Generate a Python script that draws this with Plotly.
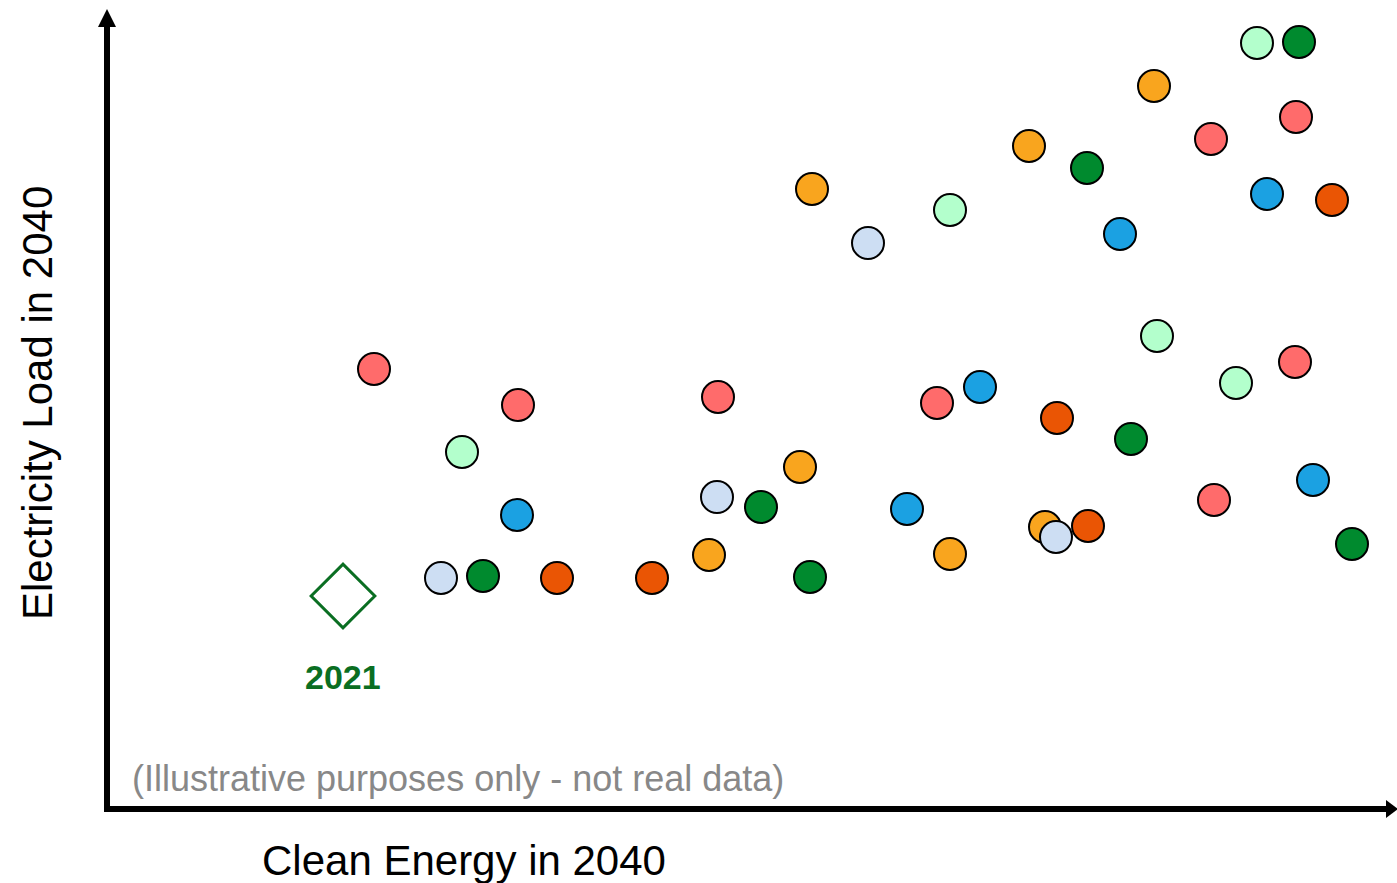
import plotly.graph_objects as go

# Clean Energy (x) / Electricity Load (y) in arbitrary illustrative units
pink_x = [374, 518, 718, 937, 1211, 1296, 1295, 1214]
pink_y = [514, 478, 486, 480, 744, 766, 521, 383]

lgreen_x = [462, 950, 1157, 1236, 1257]
lgreen_y = [431, 673, 547, 500, 840]

blue_x = [517, 907, 980, 1120, 1267, 1313]
blue_y = [368, 374, 496, 649, 689, 403]

lorange_x = [709, 800, 812, 950, 1029, 1045, 1154]
lorange_y = [328, 416, 694, 329, 737, 356, 797]

lblue_x = [441, 717, 868, 1056]
lblue_y = [305, 386, 640, 346]

dgreen_x = [483, 761, 810, 1087, 1131, 1299, 1352]
dgreen_y = [307, 376, 306, 715, 444, 841, 339]

dorange_x = [557, 652, 1057, 1088, 1332]
dorange_y = [305, 305, 465, 357, 683]

base_x = [343]
base_y = [287]
base_label = "2021"

series = [
    (lorange_x, lorange_y, "#f9a51e"),
    (pink_x, pink_y, "#ff6b6b"),
    (lgreen_x, lgreen_y, "#b3ffcc"),
    (blue_x, blue_y, "#1ba1e2"),
    (lblue_x, lblue_y, "#cddef3"),
    (dgreen_x, dgreen_y, "#008a2e"),
    (dorange_x, dorange_y, "#ea5504"),
]

fig = go.Figure()
for xs, ys, col in series:
    fig.add_trace(go.Scatter(
        x=xs, y=ys, mode="markers",
        marker=dict(size=32, color=col, line=dict(color="black", width=2)),
        showlegend=False, hoverinfo="skip"))

fig.add_trace(go.Scatter(
    x=base_x, y=base_y, mode="markers",
    marker=dict(symbol="diamond-open", size=49, color="#0a6e22",
                line=dict(color="#0a6e22", width=3)),
    showlegend=False, hoverinfo="skip"))

# axes with arrows
shapes = [
    dict(type="line", xref="x", yref="y", x0=107, x1=107, y0=71, y1=858,
         line=dict(color="black", width=6)),
    dict(type="path", xref="x", yref="y", path="M 98 856 L 116 856 L 107 874 Z",
         fillcolor="black", line=dict(color="black", width=0)),
    dict(type="line", xref="x", yref="y", x0=104, x1=1388, y0=74, y1=74,
         line=dict(color="black", width=6)),
    dict(type="path", xref="x", yref="y", path="M 1386 65 L 1386 83 L 1398 74 Z",
         fillcolor="black", line=dict(color="black", width=0)),
]

annotations = [
    dict(x=464, y=23, xref="x", yref="y", text="Clean Energy in 2040", showarrow=False,
         font=dict(family="Liberation Sans, Arial", size=42, color="black"),
         xanchor="center", yanchor="middle"),
    dict(x=37, y=480, xref="x", yref="y", text="Electricity Load in 2040", showarrow=False,
         textangle=-90,
         font=dict(family="Liberation Sans, Arial", size=42, color="black"),
         xanchor="center", yanchor="middle"),
    dict(x=458, y=105, xref="x", yref="y", text="(Illustrative purposes only - not real data)",
         showarrow=False,
         font=dict(family="Liberation Sans, Arial", size=36, color="#888888"),
         xanchor="center", yanchor="middle"),
    dict(x=base_x[0], y=206, xref="x", yref="y", text="<b>" + base_label + "</b>", showarrow=False,
         font=dict(family="Liberation Sans, Arial", size=34, color="#0a6e22"),
         xanchor="center", yanchor="middle"),
]

fig.update_layout(
    width=1397, height=883,
    margin=dict(l=0, r=0, t=0, b=0),
    paper_bgcolor="white", plot_bgcolor="white",
    xaxis=dict(range=[0, 1397], visible=False, fixedrange=True),
    yaxis=dict(range=[0, 883], visible=False, fixedrange=True),
    shapes=shapes, annotations=annotations,
)

fig.write_html(
    "out.html",
    config={"displayModeBar": False, "staticPlot": True},
    post_script="document.body.style.margin='0px';document.body.style.overflow='hidden';",
)
